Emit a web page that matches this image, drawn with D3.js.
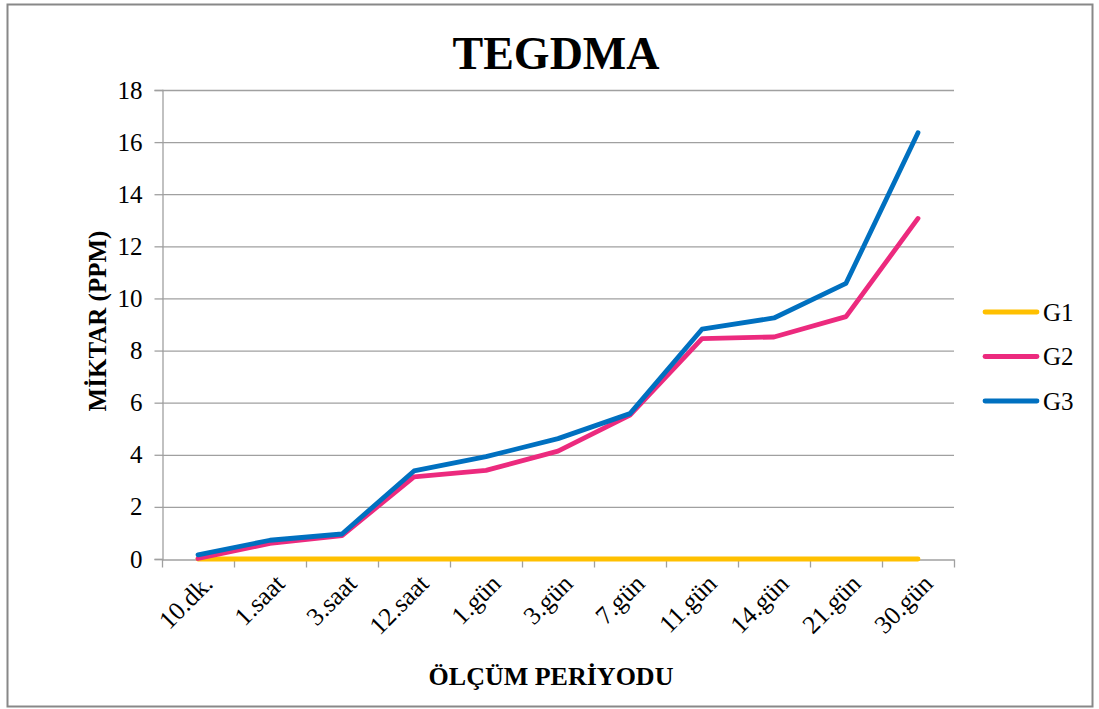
<!DOCTYPE html>
<html><head><meta charset="utf-8">
<script src="https://cdn.jsdelivr.net/npm/d3@7"></script>
<style>body{margin:0;background:#fff}svg{display:block}svg text{font-family:"Liberation Serif","Times New Roman",serif !important}</style>
</head><body><svg id="c" width="1099" height="709" font-family="Liberation Serif"></svg>
<script>
const categories = ["10.dk.","1.saat","3.saat","12.saat","1.gün","3.gün","7.gün","11.gün","14.gün","21.gün","30.gün"];
const seriesNames = ["G1","G2","G3"];
const g1 = [0,0,0,0,0,0,0,0,0,0,0];
const g2 = [0.02,0.6,0.9,3.15,3.4,4.14,5.52,8.46,8.52,9.3,13.07];
const g3 = [0.16,0.72,0.96,3.38,3.93,4.62,5.58,8.82,9.25,10.58,16.36];
const yTicks = [0,2,4,6,8,10,12,14,16,18];
const colors = ["#FFC000","#EC2A7E","#0070C0"];
const title = "TEGDMA", xTitle = "ÖLÇÜM PERİYODU", yTitle = "MİKTAR (PPM)";
const FONT = "Liberation Serif";

const svg = d3.select("#c");
svg.append("rect").attr("x",7.5).attr("y",4.5).attr("width",1085).attr("height",702)
  .attr("fill","#fff").attr("stroke","#888").attr("stroke-width",2);

const L=162,R=954,T=90,B=559;
const x = d3.scaleBand().domain(categories).range([L,R]);
const y = d3.scaleLinear().domain([0,18]).range([B,T]);

// gridlines
svg.append("g").selectAll("line").data(yTicks.filter(d=>d>0)).join("line")
  .attr("x1",L).attr("x2",R).attr("y1",d=>y(d)+0.5).attr("y2",d=>y(d)+0.5)
  .attr("stroke","#a0a0a0").attr("stroke-width",1.3);

// y axis
const ya = svg.append("g").attr("transform",`translate(${L+0.5},0)`)
  .call(d3.axisLeft(y).tickValues(yTicks).tickSize(8).tickPadding(12).tickFormat(d3.format("d")));
ya.attr("font-family",FONT).attr("font-size",25);
ya.select(".domain").attr("stroke","#a0a0a0").attr("stroke-width",1.3);
ya.selectAll(".tick line").attr("stroke","#a0a0a0").attr("stroke-width",1.3);
ya.selectAll("text").attr("fill","#000");

// x axis
const xa = svg.append("g").attr("transform",`translate(0,${B+0.5})`)
  .call(d3.axisBottom(x).tickSize(0).tickFormat(""));
xa.select(".domain").attr("stroke","#a0a0a0").attr("stroke-width",1.3);
const bounds = categories.map(c=>x(c)).concat([R]);
xa.append("g").selectAll("line").data(bounds).join("line")
  .attr("x1",d=>d+0.5).attr("x2",d=>d+0.5).attr("y1",0).attr("y2",8)
  .attr("stroke","#a0a0a0").attr("stroke-width",1.3);
svg.append("g").selectAll("text").data(categories).join("text")
  .attr("transform",d=>`translate(${x(d)+x.bandwidth()/2+10},${B+20}) rotate(-45)`)
  .attr("text-anchor","end").attr("dy","0.35em").attr("font-size",25.5).attr("font-family",FONT).text(d=>d);

// lines
const data = [g1,g2,g3];
const line = d3.line().x((d,i)=>x(categories[i])+x.bandwidth()/2).y(d=>y(d));
svg.append("g").selectAll("path").data(data).join("path")
  .attr("d",line).attr("fill","none").attr("stroke",(d,i)=>colors[i])
  .attr("stroke-width",4.8).attr("stroke-linejoin","round").attr("stroke-linecap","round");

// titles
svg.append("text").attr("x",556).attr("y",69).attr("text-anchor","middle").attr("font-family",FONT)
  .attr("font-size",46).attr("font-weight","bold").text(title);
svg.append("text").attr("x",551).attr("y",685).attr("text-anchor","middle").attr("font-family",FONT)
  .attr("font-size",26).attr("font-weight","bold").text(xTitle);
svg.append("text").attr("transform","translate(106,321) rotate(-90)").attr("text-anchor","middle").attr("font-family",FONT)
  .attr("font-size",25).attr("font-weight","bold").text(yTitle);

// legend
const lg = svg.append("g").selectAll("g").data(seriesNames).join("g")
  .attr("transform",(d,i)=>`translate(0,${312+i*44.5})`);
lg.append("line").attr("x1",985).attr("x2",1037).attr("stroke",(d,i)=>colors[i])
  .attr("stroke-width",4.8).attr("stroke-linecap","round");
lg.append("text").attr("x",1043).attr("dy","0.35em").attr("font-size",25).attr("font-family",FONT).text(d=>d);
</script></body></html>
